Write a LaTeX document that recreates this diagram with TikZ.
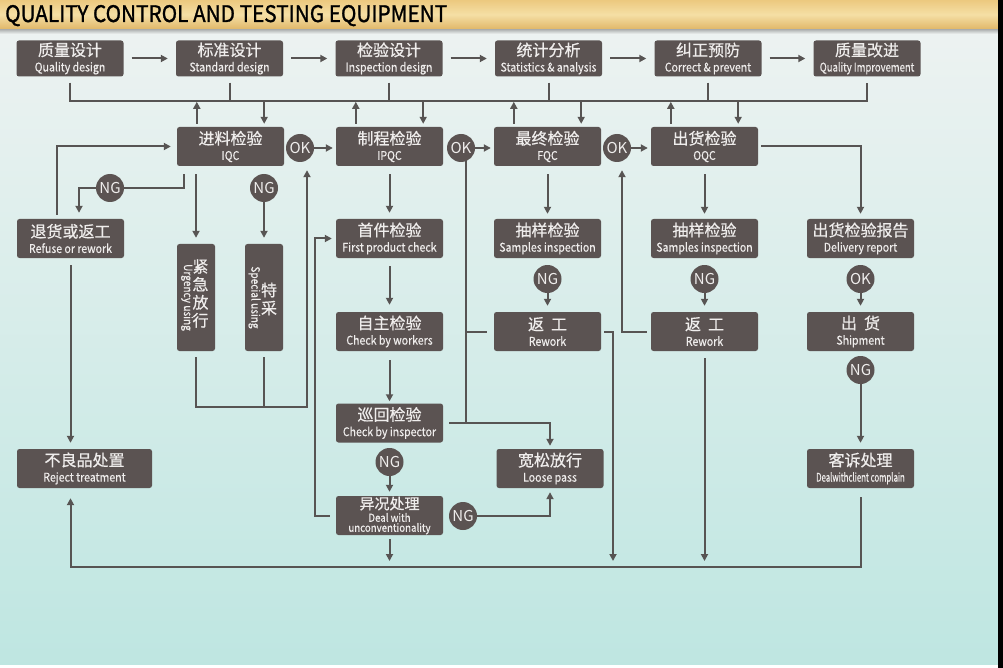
\documentclass[tikz,border=0pt]{standalone}
\usepackage{fontspec}
\usepackage{graphicx}
\setmainfont{Noto Sans CJK SC}
\newfontfamily\enfont[FakeStretch=0.88,FakeBold=0.4]{Noto Sans CJK SC}
\newfontfamily\cnfont[FakeBold=0.6]{Noto Sans CJK SC}
\newfontfamily\titlefont[FakeBold=1.2]{Noto Sans CJK SC}
\usetikzlibrary{arrows.meta,calc,backgrounds}
\definecolor{boxc}{HTML}{5B5352}
\definecolor{linec}{HTML}{575453}
\definecolor{txtc}{HTML}{EFEDEC}
\definecolor{bgtop}{HTML}{EFF3F2}
\definecolor{bgmid}{HTML}{D8EEEC}
\definecolor{bgbot}{HTML}{BEE6E1}
\definecolor{gda}{HTML}{B98324}
\definecolor{gdb}{HTML}{D6A34A}
\definecolor{gdc}{HTML}{F5DFA5}
\definecolor{gdd}{HTML}{EBC67A}
\definecolor{gde}{HTML}{CF9233}
\pgfdeclareverticalshading{goldbar}{100bp}{color(0bp)=(gda); color(12bp)=(gdb); color(50bp)=(gdc); color(78bp)=(gdd); color(100bp)=(gde)}
\newcommand{\qcn}[1]{{\cnfont\fontsize{16}{18}\selectfont #1}}
\newcommand{\qen}[1]{{\enfont\fontsize{12}{13}\selectfont #1}}
\newcommand{\qbx}[2]{\qcn{#1}\\[-2.5pt]\qen{#2}}
\tikzset{
  qbox/.style={fill=boxc, rounded corners=2.5pt, minimum width=107pt, minimum height=39pt, inner sep=0pt, text=txtc, align=center, font=\fontsize{16}{18}\selectfont},
  topbox/.style={qbox, minimum height=36pt},
  circ/.style={circle, fill=boxc, minimum size=28pt, inner sep=0pt, text=txtc, font=\fontsize{15}{15}\selectfont},
  cntxt/.style={inner sep=0pt, text=txtc, align=center, font=\cnfont\fontsize{16}{18}\selectfont},
  entxt/.style={inner sep=0pt, text=txtc, font=\enfont\fontsize{11.5}{12}\selectfont},
  ln/.style={draw=linec, line width=2pt},
  arr/.style={ln, -{Triangle[length=7pt,width=7pt]}},
}
\begin{document}
\begin{tikzpicture}[x=1pt,y=-1pt]
\useasboundingbox (0,0) rectangle (1003,668);
\begin{scope}[on background layer]
  \shade[top color=bgtop, middle color=bgmid, bottom color=bgbot] (0,0) rectangle (1003,668);
  \shade[top color=black!35!bgtop, bottom color=bgtop] (0,28) rectangle (998,34);
  \shade[shading=goldbar] (0,0) rectangle (998,29);
  \fill[black] (998,0) rectangle (1003,668);
  \fill[white] (0,665) rectangle (998,668);
\end{scope}
\node[anchor=base west, inner sep=0pt] (title) at (5,22) {\resizebox{442pt}{17pt}{\titlefont QUALITY CONTROL AND TESTING EQUIPMENT}};

% top row
\node[topbox] (t1) at (70,58.5) {\qbx{质量设计}{Quality design}};
\node[topbox] (t2) at (229.5,58.5) {\qbx{标准设计}{Standard design}};
\node[topbox] (t3) at (389,58.5) {\qbx{检验设计}{Inspection design}};
\node[topbox] (t4) at (548.5,58.5) {\qbx{统计分析}{Statistics \& analysis}};
\node[topbox] (t5) at (708,58.5) {\qbx{纠正预防}{Correct \& prevent}};
\node[topbox] (t6) at (867,58.5) {\qbx{质量改进}{\scalebox{0.9}[1]{Quality Improvement}}};
\coordinate (bus) at (0,101);
\coordinate (bot) at (0,567);

% second row
\node[qbox] (iqc) at (230.5,146.5) {\qbx{进料检验}{IQC}};
\node[qbox] (ipqc) at (389.5,146.5) {\qbx{制程检验}{IPQC}};
\node[qbox] (fqc) at (547.5,146.5) {\qbx{最终检验}{FQC}};
\node[qbox] (oqc) at (704.5,146.5) {\qbx{出货检验}{OQC}};
\node[circ] (ok1) at (300,148) {OK};
\node[circ] (ok2) at (461,148) {OK};
\node[circ] (ok3) at (617,148) {OK};
\node[circ] (ng1) at (110,188) {NG};
\node[circ] (ng2) at (264,188) {NG};

% third row
\node[qbox] (rr) at (70.5,238.5) {\qbx{退货或返工}{Refuse or rework}};
\node[qbox] (fpc) at (389.5,238.5) {\qbx{首件检验}{First product check}};
\node[qbox] (s1) at (547.5,238.5) {\qbx{抽样检验}{Samples inspection}};
\node[qbox] (s2) at (704.5,238.5) {\qbx{抽样检验}{Samples inspection}};
\node[qbox] (dr) at (860.5,238.5) {\qbx{出货检验报告}{Delivery report}};
\node[qbox, minimum width=38pt, minimum height=107pt] (urg) at (196,297.5) {};
\node[entxt, rotate=-90] (urgen) at ([xshift=-9pt]urg.center) {Urgency using};
\node[cntxt] (urgcn) at ([xshift=4.5pt,yshift=4pt]urg.center) {紧\\急\\放\\行};
\node[qbox, minimum width=38pt, minimum height=107pt] (spc) at (264,297.5) {};
\node[entxt, rotate=-90] (spcen) at ([xshift=-9.5pt]spc.center) {Special using};
\node[cntxt] (spccn) at ([xshift=5pt,yshift=-1.5pt]spc.center) {特\\采};
\node[circ] (ngs1) at (547.5,279) {NG};
\node[circ] (ngs2) at (704.5,279) {NG};
\node[circ] (okdr) at (860.5,279) {OK};

% fourth row
\node[qbox] (cbw) at (389.5,331.5) {\qbx{自主检验}{Check by workers}};
\node[qbox] (rw1) at (547.5,331.5) {\qbx{返\hspace{7pt}工}{Rework}};
\node[qbox] (rw2) at (704.5,331.5) {\qbx{返\hspace{7pt}工}{Rework}};
\node[qbox] (ship) at (860.5,331.5) {\qbx{出\hspace{7pt}货}{Shipment}};
\node[circ] (ngsh) at (860.5,370) {NG};

% lower rows
\node[qbox] (cbi) at (389.5,423) {\qbx{巡回检验}{Check by inspector}};
\node[circ] (ngcbi) at (389.5,462) {NG};
\node[qbox] (dwu) at (389.5,515.5) {{\cnfont\fontsize{15}{18}\selectfont 异况处理}\\[-5.5pt]{\enfont\fontsize{11}{12}\selectfont Deal with}\\[-8pt]{\enfont\fontsize{11}{12}\selectfont unconventionality}};
\node[circ] (ngdwu) at (463,516) {NG};
\node[qbox] (loose) at (550,468.5) {\qbx{宽松放行}{Loose pass}};
\node[qbox] (ccp) at (860.5,468.5) {\qbx{客诉处理}{\scalebox{0.74}[1]{Dealwithclient complain}}};
\node[qbox, minimum width=135pt] (rej) at (84.5,468.5) {\qbx{不良品处置}{Reject treatment}};

\begin{scope}[on background layer]
  % top row arrows
  \foreach \a/\b in {t1/t2,t2/t3,t3/t4,t4/t5,t5/t6}
    \draw[arr, shorten <=8pt, shorten >=8pt] (\a) -- (\b);
  % bus
  \draw[ln, shorten <=6pt, shorten >=6pt] (t1.south) |- (t6.south |- bus) -- (t6.south);
  \foreach \a in {t2,t3,t4,t5}
    \draw[ln, shorten <=6pt] (\a.south) -- (\a.south |- bus);
  % up / down arrows between bus and second row
  \foreach \a in {iqc,ipqc,fqc,oqc}{
    \draw[arr] ([xshift=20pt]\a.north west) ++(0,-3) -- ++(0,-22);
    \draw[arr] ([xshift=-20pt]\a.north east) ++(0,-26) -- ++(0,23);
  }
  % OK arrows
  \draw[arr, shorten >=3pt] (ok1.east) -- (ok1.east -| ipqc.west);
  \draw[arr, shorten >=3pt] (ok2.east) -- (ok2.east -| fqc.west);
  \draw[arr, shorten >=3pt] (ok3.east) -- (ok3.east -| oqc.west);
  % IQC branch
  \draw[arr, shorten <=4pt, shorten >=6pt] ([xshift=-13.5pt]rr.north) |- (iqc.west);
  \draw[ln, shorten <=8pt] ([xshift=-46.5pt]iqc.south) |- (ng1);
  \draw[arr, shorten >=6pt] (ng1) -| ([xshift=8.5pt]rr.north);
  \draw[arr, shorten <=8pt, shorten >=6pt] (urg.north |- iqc.south) -- (urg.north);
  \draw[arr, shorten >=6pt] (ng2) -- (spc.north);
  \coordinate (j1) at (307,407);
  \draw[arr, shorten <=6pt, shorten >=8pt] (urg.south) |- (j1) -- (j1 |- ok1.south);
  \draw[ln, shorten <=6pt] (spc.south) -- (spc.south |- j1);
  \draw[arr, shorten <=7pt, shorten >=6pt] (rr.south) -- (rr.south |- rej.north);
  % IPQC column
  \draw[arr, shorten <=8pt, shorten >=6pt] (ipqc) -- (fpc);
  \draw[arr, shorten <=8pt, shorten >=7pt] (fpc) -- (cbw);
  \draw[arr, shorten <=9pt, shorten >=2pt] (cbw) -- (cbi);
  \draw[arr, shorten >=4pt] (ngcbi) -- (dwu);
  \draw[arr, shorten <=4pt, shorten >=6pt] (dwu.south) -- (dwu.south |- bot);
  \draw[arr, shorten <=6pt, shorten >=4pt] (dwu.west) -- ++(-21,0) |- (fpc.west);
  \draw[arr, shorten >=4pt] (ngdwu) -| (loose.south);
  \draw[arr, shorten <=6pt, shorten >=3pt] (cbi.east) -| (loose.north);
  \coordinate (j2) at (466,423);
  \draw[ln] (j2) -- (j2 |- ok2);
  \draw[ln, shorten <=7pt] (rw1.west) -- (rw1.west -| j2);
  % FQC column
  \draw[arr, shorten <=8pt, shorten >=5pt] (fqc) -- (s1);
  \draw[arr, shorten >=6pt] (ngs1) -- (rw1);
  \coordinate (b1) at (613,561);
  \draw[arr, shorten <=3pt] (rw1.east) -| (b1);
  % OQC column
  \draw[arr, shorten <=8pt, shorten >=5pt] (oqc) -- (s2);
  \draw[arr, shorten >=6pt] (ngs2) -- (rw2);
  \draw[arr, shorten <=7pt, shorten >=6pt] (rw2.south) -- (rw2.south |- bot);
  \draw[arr, shorten <=4pt, shorten >=8pt] (rw2.west) -| ([xshift=5pt]ok3.south);
  % delivery column
  \draw[arr, shorten <=3pt, shorten >=5pt] (oqc.east) -| (dr.north);
  \draw[arr, shorten >=6pt] (okdr) -- (ship);
  \draw[arr, shorten >=6pt] (ngsh) -- (ccp);
  \draw[arr, shorten <=9pt, shorten >=10pt] (ccp.south) |- (rr.south |- bot) -- (rr.south |- rej.south);
\end{scope}
\end{tikzpicture}
\end{document}
